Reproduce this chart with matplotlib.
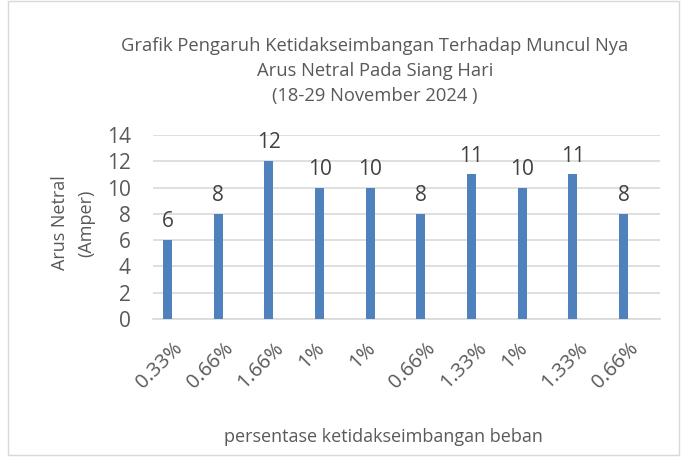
import matplotlib.pyplot as plt
import matplotlib.transforms as mtransforms
from matplotlib.patches import Rectangle

labels = ["0.33%", "0.66%", "1.66%", "1%", "1%", "0.66%", "1.33%", "1%", "1.33%", "0.66%"]
arus = [6, 8, 12, 10, 10, 8, 11, 10, 11, 8]

plt.rcParams["font.family"] = ["Open Sans", "DejaVu Sans"]

fig = plt.figure(figsize=(6.84, 4.61), dpi=100)
ax = fig.add_axes([0.2237, 0.308, 0.7412, 0.399])

x = list(range(len(arus)))
bars = ax.bar(x, arus, width=0.18, color="#4F81BD", zorder=3)
for b, v in zip(bars, arus):
    ax.text(b.get_x() + b.get_width() / 2, v + 0.6, str(v), ha="center", va="bottom",
            fontsize=15, color="#404040")

ax.set_xlim(-0.286, len(arus) - 1 + 0.72)
ax.set_ylim(0, 14)
ax.set_yticks(range(0, 15, 2))
ax.set_xticks(x)
ax.set_xticklabels(labels, rotation=45, ha="center")
ax.tick_params(axis="both", length=0, labelcolor="#595959")
ax.tick_params(axis="y", pad=16, labelsize=15)
ax.tick_params(axis="x", pad=14, labelsize=14.5)
shift = mtransforms.ScaledTranslation(-8 / 100, 0, fig.dpi_scale_trans)
for t in ax.get_xticklabels():
    t.set_transform(t.get_transform() + shift)
ax.grid(axis="y", color="#D9D9D9", linewidth=1.2, zorder=0)
for s in ["top", "right", "left"]:
    ax.spines[s].set_visible(False)
ax.spines["bottom"].set_color("#D9D9D9")
ax.spines["bottom"].set_linewidth(1.2)

fig.text(0.107, 0.516, "Arus Netral\n(Amper)", rotation=90, ha="center", va="center",
         fontsize=13, color="#595959", linespacing=1.6)
fig.text(0.56, 0.052, "persentase ketidakseimbangan beban", ha="center", va="center",
         fontsize=13, color="#595959")
fig.text(0.548, 0.846, "Grafik Pengaruh Ketidakseimbangan Terhadap Muncul Nya\n"
         "Arus Netral Pada Siang Hari\n(18-29 November 2024 )",
         ha="center", va="center", fontsize=13.2, color="#595959", linespacing=1.5)

fig.patches.append(Rectangle((0.011, 0.012), 0.982, 0.985, transform=fig.transFigure,
                             fill=False, edgecolor="#D9D9D9", linewidth=1))

fig.savefig("out.png", dpi=100)
